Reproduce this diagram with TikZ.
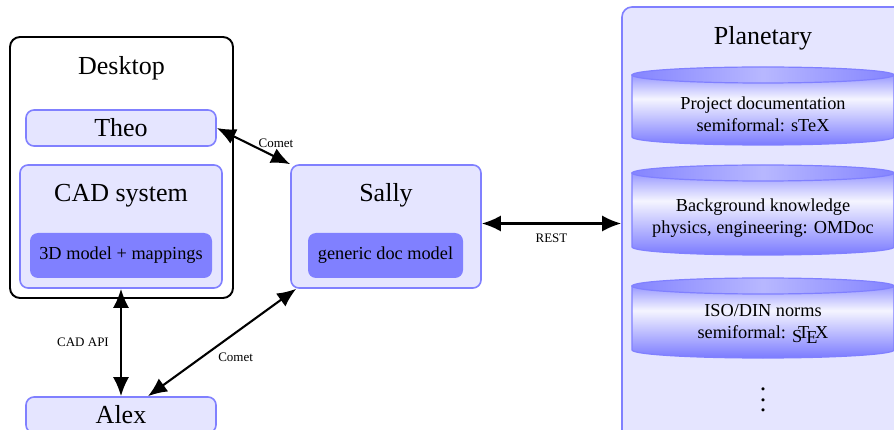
\documentclass[tikz,border=0pt]{standalone}
\usepackage{fontspec}
\setmainfont{Liberation Serif}
\usetikzlibrary{arrows.meta,calc}
\pgfdeclareverticalshading{cylbody}{100bp}{color(0bp)=(blue!52); color(25bp)=(blue!52); color(58bp)=(blue!4); color(75bp)=(blue!40); color(100bp)=(blue!40)}
\newcommand\sTeXlogo{\raisebox{-.45ex}{S}\kern-.22em T\kern-.1667em\lower.5ex\hbox{E}\kern-.125em X}
\newcommand\bigfont{\fontsize{26}{30}\selectfont}
\newcommand\midfont{\fontsize{18.3}{22}\selectfont}
\newcommand\smallfont{\fontsize{13}{15}\selectfont}
\newcommand\cyl[5]{%
  \path[shade, shading=cylbody, draw=blue!50, line width=1.2pt] (632,#2) -- (632,#3) arc[start angle=180,end angle=0,x radius=131,y radius=8] -- (894,#2) -- cycle;
  \path[left color=blue!48, right color=blue!48, middle color=blue!28, draw=blue!50, line width=1.2pt] (763,#2) ellipse[x radius=131, y radius=8];
  \node[font=\midfont, align=center, inner sep=0pt] (#1) at (763,#4) {#5};}
\begin{document}
\begin{tikzpicture}[x=1pt,y=-1pt,
  box/.style={draw=blue!50, fill=blue!10, line width=1.6pt, rounded corners=8pt, inner sep=0pt},
  innerbox/.style={fill=blue!50, rounded corners=8pt, inner sep=0pt, font=\midfont},
  title/.style={font=\bigfont, inner sep=0pt, anchor=base},
  conn/.style={{Latex[length=19pt,width=16pt]}-{Latex[length=19pt,width=16pt]}, line width=2.1pt},
  lbl/.style={font=\smallfont, inner sep=0pt}]
\useasboundingbox (0,0) rectangle (894,430);
\clip (0,0) rectangle (894,430);
% Desktop
\node[draw=black, line width=1.9pt, rounded corners=10pt, fill=white, minimum width=223pt, minimum height=261pt, inner sep=0pt] (desktop) at (121.5,167.5) {};
\node[title] (desktoptitle) at (121.5,75) {Desktop};
\node[box, minimum width=190pt, minimum height=36pt, font=\bigfont] (theo) at (121,128) {Theo};
\node[box, minimum width=202pt, minimum height=123pt] (cad) at (121,226.5) {};
\node[title] (cadtitle) at (121,202) {CAD system};
\node[innerbox, minimum width=182pt, minimum height=45pt] (model) at (121,255.5) {3D model + mappings};
% Sally
\node[box, minimum width=190pt, minimum height=123pt] (sally) at (386,226.5) {};
\node[title] (sallytitle) at (386,202) {Sally};
\node[innerbox, minimum width=155pt, minimum height=45pt] (generic) at (385.5,255.5) {generic doc model};
% Alex
\node[box, minimum width=190pt, minimum height=36pt, font=\bigfont] (alex) at (121,415) {Alex};
% Planetary
\node[box, rounded corners=10pt, minimum width=282pt, minimum height=460pt] (planetary) at (763,237) {};
\node[title] (planetarytitle) at (763,45) {Planetary};
\cyl{doc}{75}{137}{114}{Project documentation\\semiformal: sTeX}
\cyl{bg}{173}{247}{218}{Background knowledge\\physics, engineering: OMDoc}
\cyl{iso}{286}{350}{324}{ISO/DIN norms\\semiformal: \sTeXlogo}
\node[font=\bigfont, inner sep=0pt] (dots) at (763,400) {\vbox{\baselineskip=10.5pt\lineskiplimit=0pt\hbox{.}\hbox{.}\hbox{.}}};
% connectors
\draw[conn] (theo.east) -- (sally.north west) node[lbl, pos=0.5, xshift=22.5pt, yshift=3pt] {Comet};
\draw[conn] ($(sally.east)+(0,-3)$) -- ($(sally.east -| planetary.west)+(0,-3)$) node[lbl, midway, yshift=-15pt] {REST};
\draw[conn] (cad.south) -- (alex.north) node[lbl, midway, xshift=-38pt] {CAD API};
\draw[conn] ($(sally.south west)+(6,0)$) -- ($(alex.north)+(27,0)$) node[lbl, midway, xshift=13.5pt, yshift=-14.5pt] {Comet};
\end{tikzpicture}
\end{document}
